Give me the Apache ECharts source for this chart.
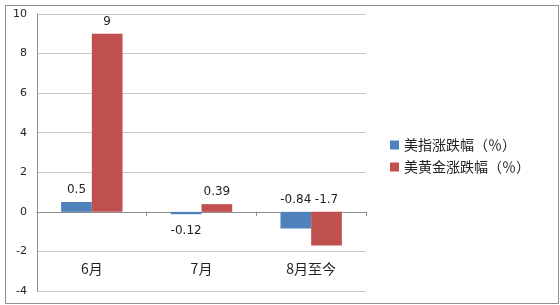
<!DOCTYPE html>
<html>
<head>
  <meta charset="utf-8">
  <script src="https://cdn.jsdelivr.net/npm/echarts@6/dist/echarts.min.js"></script>
  <style>
    html, body { margin: 0; padding: 0; background: #fff; }
  </style>
</head>
<body>
  <div id="container" style="width: 560px; height: 305px;"></div>
  <script>
    var categories = ['6月', '7月', '8月至今'];
    var usdIndex = [0.5, -0.12, -0.84];
    var gold = [9, 0.39, -1.7];
    var seriesNames = ['美指涨跌幅（％）', '美黄金涨跌幅（％）'];

    var numFont = 'DejaVu Sans';
    var cjkFont = '"Noto Sans CJK SC", "Noto Sans", sans-serif';

    // Excel style: most labels sit above the bar top, small negatives below
    function labelled(values) {
      return values.map(function (v) {
        var below = v < 0 && v > -0.5;
        return { value: v, label: { position: below ? 'bottom' : 'top', distance: below ? 11 : 6 } };
      });
    }

    var myChart = echarts.init(document.getElementById('container'));
    var option = {
      backgroundColor: '#fff',
      animation: false,
      graphic: [{
        type: 'rect',
        left: 3, top: 3,
        shape: { width: 553, height: 298 },
        style: { fill: 'none', stroke: '#8c8c8c', lineWidth: 1 }
      }],
      grid: { left: 37, right: 194, top: 14, bottom: 14, containLabel: false, outerBoundsMode: 'none' },
      legend: {
        orient: 'vertical',
        left: 385,
        top: 133,
        itemWidth: 9,
        itemHeight: 9,
        itemGap: 8,
        icon: 'rect',
        textStyle: { fontFamily: cjkFont, fontSize: 14, color: '#222' },
        data: seriesNames
      },
      xAxis: [
        {
          type: 'category',
          data: categories,
          axisLine: { onZero: true, lineStyle: { color: '#8c8c8c' } },
          axisTick: { show: true, length: 4, lineStyle: { color: '#8c8c8c' } },
          axisLabel: { show: false }
        },
        {
          // labels sit near the bottom, as in the "low" label position
          type: 'category',
          data: categories,
          position: 'bottom',
          axisLine: { show: false, onZero: false },
          axisTick: { show: false },
          axisLabel: { margin: -29, fontFamily: cjkFont, fontSize: 14, color: '#222' }
        }
      ],
      yAxis: {
        type: 'value',
        min: -4, max: 10, interval: 2,
        axisLine: { show: true, lineStyle: { color: '#8c8c8c' } },
        axisTick: { show: false },
        splitLine: { lineStyle: { color: '#c8c8c8' } },
        axisLabel: { fontFamily: numFont, fontSize: 11, color: '#222', margin: 10 }
      },
      series: [
        {
          name: seriesNames[0],
          type: 'bar',
          data: labelled(usdIndex),
          barGap: '0%',
          barCategoryGap: '44%',
          itemStyle: { color: '#4f81bd' },
          label: { show: true, fontFamily: numFont, fontSize: 12, color: '#222' }
        },
        {
          name: seriesNames[1],
          type: 'bar',
          data: labelled(gold),
          barGap: '0%',
          barCategoryGap: '44%',
          itemStyle: { color: '#c0504d' },
          label: { show: true, fontFamily: numFont, fontSize: 12, color: '#222' }
        }
      ]
    };
    myChart.setOption(option);
  </script>
</body>
</html>
